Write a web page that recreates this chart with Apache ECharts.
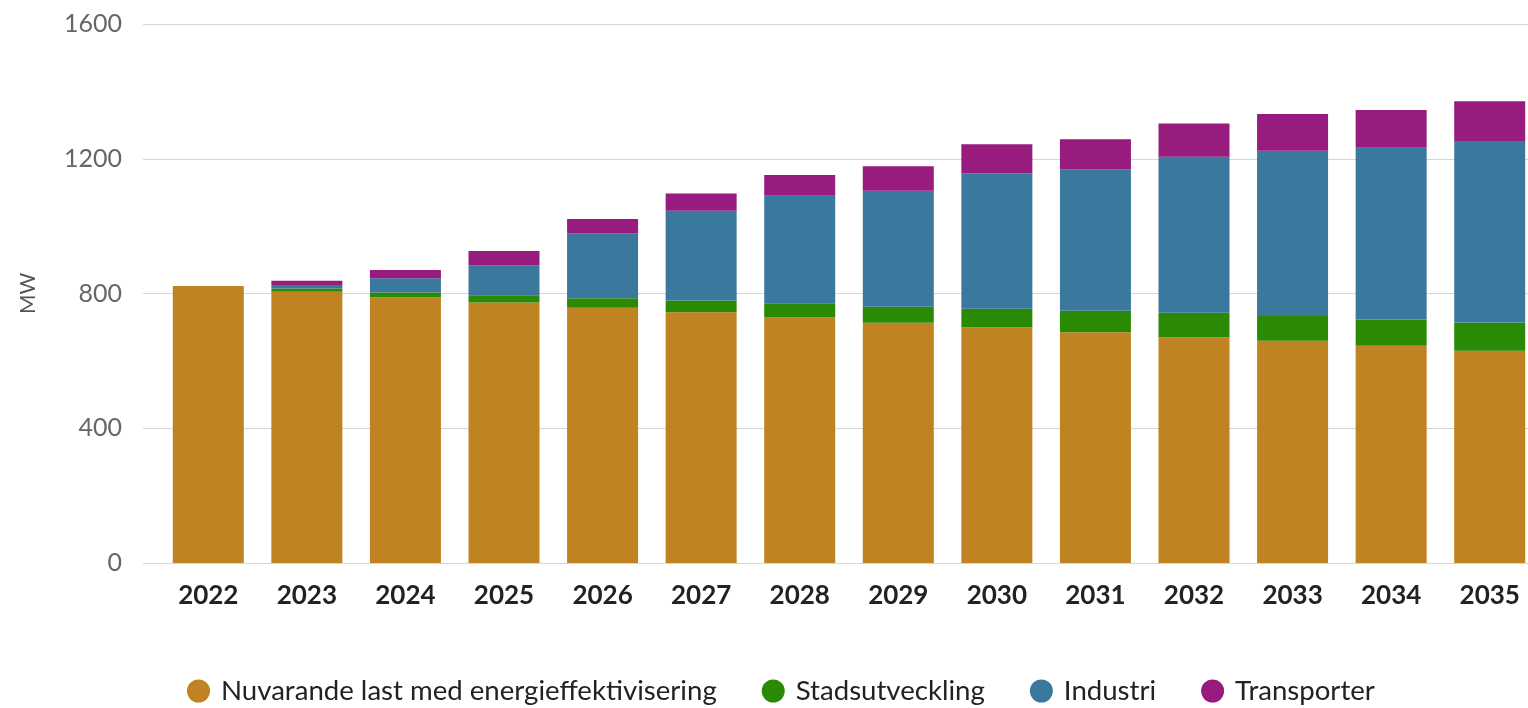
<!DOCTYPE html>
<html><head><meta charset="utf-8">
<script src="https://cdn.jsdelivr.net/npm/echarts@6/dist/echarts.min.js"></script>
<style>html,body{margin:0;padding:0;background:#fff;overflow:hidden;width:1528px;height:708px}#c{width:1539px;height:708px}</style>
</head><body><div id="c"></div>
<script>
const years = ['2022','2023','2024','2025','2026','2027','2028','2029','2030','2031','2032','2033','2034','2035'];
const nuvarande = [822,805,789,773,758,744,729,713,700,685,670,660,645,630];
const stadsutveckling = [0,10,14,22,28,35,42,48,55,64,73,73,78,84];
const industri = [0,10,42,89,193,267,319,344,401,420,463,491,510,539];
const transporter = [0,13,25,42,42,51,62,73,87,89,99,109,112,118];
const seriesNames = ['Nuvarande last med energieffektivisering','Stadsutveckling','Industri','Transporter'];
const colors = ['#BF8322','#2B8A04','#3A789E','#981B7E'];
const dataSets = [nuvarande, stadsutveckling, industri, transporter];

const chart = echarts.init(document.getElementById('c'));
chart.setOption({
  animation:false,
  color: colors,
  textStyle:{fontFamily:'Lato'},
  grid:{left:159, right:0, top:24, bottom:145},
  legend:{
    top:672, left:182, icon:'circle', itemWidth:23, itemHeight:23, itemGap:45,
    textStyle:{fontSize:27.6, color:'#222', fontFamily:'Lato', padding:[0,0,0,6]},
    data: seriesNames
  },
  xAxis:{
    type:'category', data: years,
    axisLine:{show:false}, axisTick:{show:false},
    axisLabel:{fontSize:26, fontWeight:'bold', color:'#222', margin:20}
  },
  yAxis:{
    type:'value', min:0, max:1600, interval:400,
    name:'MW', nameLocation:'middle', nameGap:120, nameRotate:90,
    nameTextStyle:{fontSize:21, color:'#555'},
    axisLine:{show:false},
    axisTick:{show:true, length:16, lineStyle:{color:'#d6d6d6'}},
    axisLabel:{fontSize:25, color:'#666', margin:37, formatter:(v)=>String(v)},
    splitLine:{lineStyle:{color:'#d6d6d6', width:1}}
  },
  series: seriesNames.map((n,i)=>({
    name:n, type:'bar', stack:'total', barWidth:71,
    data: dataSets[i], itemStyle:{color:colors[i]}
  }))
});
</script></body></html>
